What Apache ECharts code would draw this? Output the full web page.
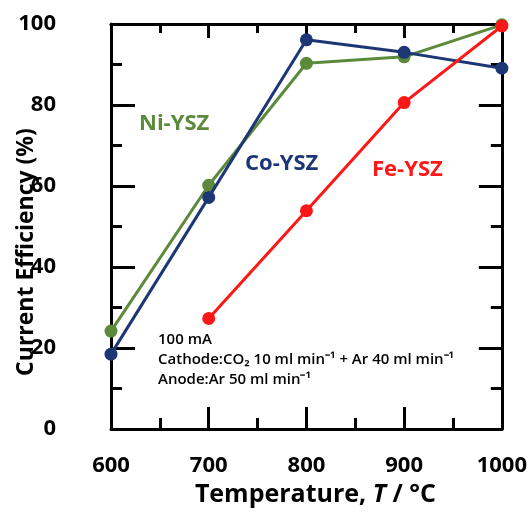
<!DOCTYPE html>
<html><head><meta charset="utf-8">
<script src="https://cdn.jsdelivr.net/npm/echarts@6/dist/echarts.min.js"></script>
<style>html,body{margin:0;padding:0;background:#fff}#c{width:530px;height:512px}</style>
</head><body><div id="c"></div>
<script>
const temperatures = [600, 700, 800, 900, 1000];
const niYSZ = [24.2, 60.2, 90.3, 91.9, 99.8];
const coYSZ = [18.5, 57.2, 96.1, 93.0, 89.1];
const feYSZ = [null, 27.3, 53.9, 80.6, 99.5];
const seriesNames = ['Ni-YSZ', 'Co-YSZ', 'Fe-YSZ'];
const seriesColors = ['#5b8a3a', '#1c3676', '#ff1616'];
const annotationLines = ['100 mA', 'Cathode:CO₂ 10 ml min⁻¹ + Ar 40 ml min⁻¹', 'Anode:Ar 50 ml min⁻¹'];
const yTitle = 'Current Efficiency (%)';

const FONT = 'Open Sans';
const pair = (xs, ys) => xs.map((x, i) => [x, ys[i]]).filter(p => p[1] !== null);
const axisLine = {show: true, onZero: false, lineStyle: {color: '#000', width: 3}};
function xAx(pos, showLabel, tickLen, minorLen) {
  return {
    type: 'value', min: 600, max: 1000, interval: 100, position: pos,
    axisLine: axisLine,
    axisTick: {show: true, inside: true, length: tickLen, lineStyle: {color: '#000', width: 3}},
    minorTick: {show: true, splitNumber: 2, length: minorLen, lineStyle: {color: '#000', width: 3}},
    axisLabel: {show: showLabel, margin: 26, color: '#000', fontSize: 22, fontWeight: 'bold', fontFamily: FONT,
      formatter: v => String(v)},
    splitLine: {show: false}, minorSplitLine: {show: false},
    name: showLabel ? '{a|Temperature, }{i|T}{a| / °C}' : '',
    nameLocation: 'middle', nameGap: 46,
    nameTextStyle: {padding: [0, 0, 0, 18], rich: {
      a: {fontSize: 25, fontWeight: 'bold', fontFamily: FONT, color: '#000'},
      i: {fontSize: 25, fontWeight: 'bold', fontStyle: 'italic', fontFamily: FONT, color: '#000'}
    }}
  };
}
function yAx(pos, showLabel, tickLen, minorLen) {
  return {
    type: 'value', min: 0, max: 100, interval: 20, position: pos,
    axisLine: axisLine,
    axisTick: {show: true, inside: true, length: tickLen, lineStyle: {color: '#000', width: 3}},
    minorTick: {show: true, splitNumber: 2, length: minorLen, lineStyle: {color: '#000', width: 3}},
    axisLabel: {show: showLabel, margin: 55, color: '#000', fontSize: 22, fontWeight: 'bold', fontFamily: FONT},
    splitLine: {show: false}, minorSplitLine: {show: false}
  };
}
const data = [niYSZ, coYSZ, feYSZ];
const chart = echarts.init(document.getElementById('c'));
chart.setOption({
  animation: false,
  backgroundColor: '#fff',
  grid: {left: 111, right: 27, top: 24, bottom: 82, containLabel: false},
  xAxis: [xAx('bottom', true, 22, 11), xAx('top', false, 14, 9)],
  yAxis: [yAx('left', true, 24, 11), yAx('right', false, 23, 11)],
  series: seriesNames.map((n, k) => ({
    name: n, type: 'line', xAxisIndex: 0, yAxisIndex: 0,
    data: pair(temperatures, data[k]),
    symbol: 'circle', symbolSize: 13, clip: false,
    lineStyle: {color: seriesColors[k], width: 3},
    itemStyle: {color: seriesColors[k]},
    z: 2 + k
  })),
  graphic: [
    {type: 'text', x: 26, y: 252, rotation: Math.PI / 2, style: {text: yTitle, fill: '#000', align: 'center', verticalAlign: 'middle', font: 'bold 23px "Open Sans"'}},
    {type: 'text', x: 139, y: 124, style: {text: seriesNames[0], fill: seriesColors[0], verticalAlign: 'middle', font: 'bold 22px "Open Sans"'}},
    {type: 'text', x: 245, y: 164, style: {text: seriesNames[1], fill: seriesColors[1], verticalAlign: 'middle', font: 'bold 22px "Open Sans"'}},
    {type: 'text', x: 372, y: 170, style: {text: seriesNames[2], fill: seriesColors[2], verticalAlign: 'middle', font: 'bold 22px "Open Sans"'}},
    {type: 'text', x: 158, y: 330, style: {text: annotationLines.join('\n'), fill: '#000', verticalAlign: 'top', lineHeight: 20, font: '600 15px "Open Sans"'}}
  ]
});
</script></body></html>
